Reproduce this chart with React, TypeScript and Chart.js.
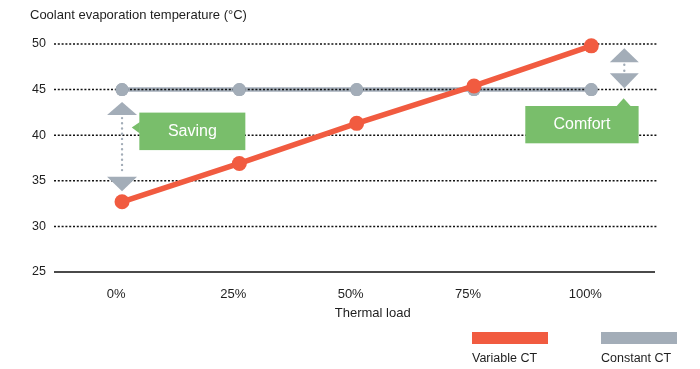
import { useEffect, useRef } from 'react';
import { Chart, registerables } from 'chart.js';

Chart.register(...registerables);

// Thermal load categories and evaporation temperatures (°C)
const loadLabels = ['0%', '25%', '50%', '75%', '100%'];
const variableCT = [32.7, 36.9, 41.3, 45.4, 49.8];
const constantCT = [45, 45, 45, 45, 45];
const tempTicks = [25, 30, 35, 40, 45, 50];
const seriesNames = ['Variable CT', 'Constant CT'];
const calloutTexts = ['Saving', 'Comfort'];
const yAxisTitle = 'Coolant evaporation temperature (°C)';
const xAxisTitle = 'Thermal load';

const ORANGE = '#F15B40';
const GREY = '#A3ADB8';
const GREEN = '#79BE6B';
const INK = '#1E1E1E';
const FONT = "'Liberation Sans', Arial, sans-serif";

type Ctx = CanvasRenderingContext2D;

function triangle(ctx: Ctx, cx: number, baseY: number, apexY: number, half: number, color: string) {
  ctx.beginPath();
  ctx.moveTo(cx - half, baseY);
  ctx.lineTo(cx + half, baseY);
  ctx.lineTo(cx, apexY);
  ctx.closePath();
  ctx.fillStyle = color;
  ctx.fill();
}

function dottedVertical(ctx: Ctx, x: number, y1: number, y2: number, gap: number) {
  ctx.save();
  ctx.strokeStyle = GREY;
  ctx.lineWidth = 2.4;
  ctx.lineCap = 'round';
  ctx.setLineDash([0, gap]);
  ctx.beginPath();
  ctx.moveTo(x, y1);
  ctx.lineTo(x, y2);
  ctx.stroke();
  ctx.restore();
}

function label(ctx: Ctx, text: string, x: number, y: number, size: number, color: string, align: CanvasTextAlign = 'center', baseline: CanvasTextBaseline = 'middle') {
  ctx.font = `${size}px ${FONT}`;
  ctx.fillStyle = color;
  ctx.textAlign = align;
  ctx.textBaseline = baseline;
  ctx.fillText(text, x, y);
}

// Dotted horizontal grid drawn over the constant line, solid base line at the axis minimum
const gridPlugin = {
  id: 'dottedGrid',
  afterDatasetDraw(chart: any, args: any) {
    if (args.index !== 1) return;
    const ctx: Ctx = chart.ctx;
    const ys = chart.scales.y;
    const { left, right } = chart.chartArea;
    ctx.save();
    ys.ticks.forEach((t: any) => {
      const py = ys.getPixelForValue(t.value);
      ctx.beginPath();
      if (t.value === ys.min) {
        ctx.setLineDash([]);
        ctx.strokeStyle = '#4A4A4A';
        ctx.lineWidth = 2;
        ctx.moveTo(left, py);
        ctx.lineTo(right - 2, py);
      } else {
        ctx.setLineDash([2, 1.8]);
        ctx.strokeStyle = '#111111';
        ctx.lineWidth = 1.5;
        ctx.moveTo(left, py);
        ctx.lineTo(right, py);
      }
      ctx.stroke();
    });
    ctx.restore();
    // markers of the constant series sit above the grid
    args.meta.data.forEach((el: any) => el.draw(ctx, chart.chartArea));
  },
};

// Callouts, x-axis title and legend
const calloutPlugin = {
  id: 'callouts',
  afterDraw(chart: any) {
    const ctx: Ctx = chart.ctx;
    const xs = chart.scales.x;
    const ys = chart.scales.y;
    const area = chart.chartArea;
    ctx.save();

    // Saving: gap between constant and variable temperature at the lowest load
    const ax = xs.getPixelForValue(0);
    const yTop = ys.getPixelForValue(constantCT[0]);
    const yBot = ys.getPixelForValue(variableCT[0]);
    triangle(ctx, ax, yTop + 25.5, yTop + 12.5, 15, GREY);
    triangle(ctx, ax, yBot - 25, yBot - 10.6, 15, GREY);
    dottedVertical(ctx, ax, yTop + 28.5, yBot - 27.5, 5.2);
    const sx = ax + 17.3;
    const sy = yTop + 23;
    ctx.fillStyle = GREEN;
    ctx.fillRect(sx, sy, 106, 37.5);
    ctx.beginPath();
    ctx.moveTo(sx + 0.5, yTop + 32.5);
    ctx.lineTo(ax + 9.7, yTop + 38);
    ctx.lineTo(sx + 0.5, yTop + 43.8);
    ctx.closePath();
    ctx.fill();
    label(ctx, calloutTexts[0], sx + 53, sy + 18.5, 16, '#FFFFFF');

    // Comfort: variable temperature above the constant one at full load
    const last = loadLabels.length - 1;
    const cx = xs.getPixelForValue(last) + 33;
    const yA = ys.getPixelForValue(variableCT[last]);
    const yC = ys.getPixelForValue(constantCT[last]);
    triangle(ctx, cx, yA + 16.5, yA + 2.5, 14.5, GREY);
    triangle(ctx, cx, yC - 16.3, yC - 1.3, 14.5, GREY);
    dottedVertical(ctx, cx, yA + 19, yC - 18.5, 6);
    const bx = cx - 99;
    const by = yC + 16.4;
    ctx.fillStyle = GREEN;
    ctx.fillRect(bx, by, 113.3, 37.3);
    ctx.beginPath();
    ctx.moveTo(cx - 8, by + 0.5);
    ctx.lineTo(cx - 0.7, yC + 8.7);
    ctx.lineTo(cx + 6.7, by + 0.5);
    ctx.closePath();
    ctx.fill();
    label(ctx, calloutTexts[1], bx + 56.6, by + 18.5, 16, '#FFFFFF');

    // x-axis title
    label(ctx, xAxisTitle, xs.getPixelForValue(2) + 16, area.bottom + 41, 13, INK);

    // legend: colour bar with its name underneath
    chart.data.datasets.forEach((ds: any, i: number) => {
      const lx = area.right - 185 + i * 129;
      const ly = area.bottom + 60;
      ctx.fillStyle = ds.borderColor;
      ctx.fillRect(lx, ly, 76, 12);
      label(ctx, ds.label, lx, ly + 30, 12.5, INK, 'left', 'alphabetic');
    });

    ctx.restore();
  },
};

export default function App() {
  const canvasRef = useRef<HTMLCanvasElement | null>(null);

  useEffect(() => {
    const canvas = canvasRef.current;
    if (!canvas) return;
    Chart.defaults.font.family = FONT;

    const chart = new Chart(canvas, {
      type: 'line',
      data: {
        datasets: [
          {
            label: seriesNames[0],
            data: variableCT.map((v, i) => ({ x: i, y: v })),
            borderColor: ORANGE,
            backgroundColor: ORANGE,
            pointBackgroundColor: ORANGE,
            borderWidth: 5.5,
            pointRadius: 7.5,
            pointBorderWidth: 0,
            tension: 0,
            clip: false,
          },
          {
            label: seriesNames[1],
            data: constantCT.map((v, i) => ({ x: i, y: v })),
            borderColor: GREY,
            backgroundColor: GREY,
            pointBackgroundColor: GREY,
            borderWidth: 4.5,
            pointRadius: 6.5,
            pointBorderWidth: 0,
            tension: 0,
            clip: false,
          },
        ],
      },
      options: {
        responsive: true,
        maintainAspectRatio: false,
        devicePixelRatio: 1,
        animation: false,
        events: [],
        layout: { padding: { left: 30, right: 43, top: 0, bottom: 0 } },
        plugins: {
          legend: { display: false },
          tooltip: { enabled: false },
          title: {
            display: true,
            text: yAxisTitle,
            align: 'start',
            color: INK,
            font: { size: 13, weight: 'normal' },
            padding: { top: 8, bottom: 20.4 },
          },
        },
        scales: {
          x: {
            type: 'linear',
            min: -0.58,
            max: 4.56,
            grid: { display: false, drawTicks: false },
            border: { display: false },
            afterBuildTicks: (s: any) => {
              s.ticks = loadLabels.map((_, i) => ({ value: i }));
            },
            afterFit: (s: any) => {
              s.height = 97;
            },
            ticks: {
              callback: (v: any) => loadLabels[v] ?? '',
              color: INK,
              font: { size: 13 },
              padding: 15,
              labelOffset: -6,
              autoSkip: false,
              maxRotation: 0,
            },
          },
          y: {
            min: tempTicks[0],
            max: tempTicks[tempTicks.length - 1],
            grid: { display: false, drawTicks: false },
            border: { display: false },
            afterBuildTicks: (s: any) => {
              s.ticks = tempTicks.map((v) => ({ value: v }));
            },
            afterFit: (s: any) => {
              s.width = 24;
            },
            ticks: {
              color: INK,
              font: { size: 12.5 },
              padding: 8,
            },
          },
        },
      },
      plugins: [gridPlugin, calloutPlugin],
    });

    return () => chart.destroy();
  }, []);

  return (
    <div style={{ position: 'fixed', left: 0, top: 0, width: 700, height: 369, background: '#FFFFFF' }}>
      <canvas ref={canvasRef} />
    </div>
  );
}
